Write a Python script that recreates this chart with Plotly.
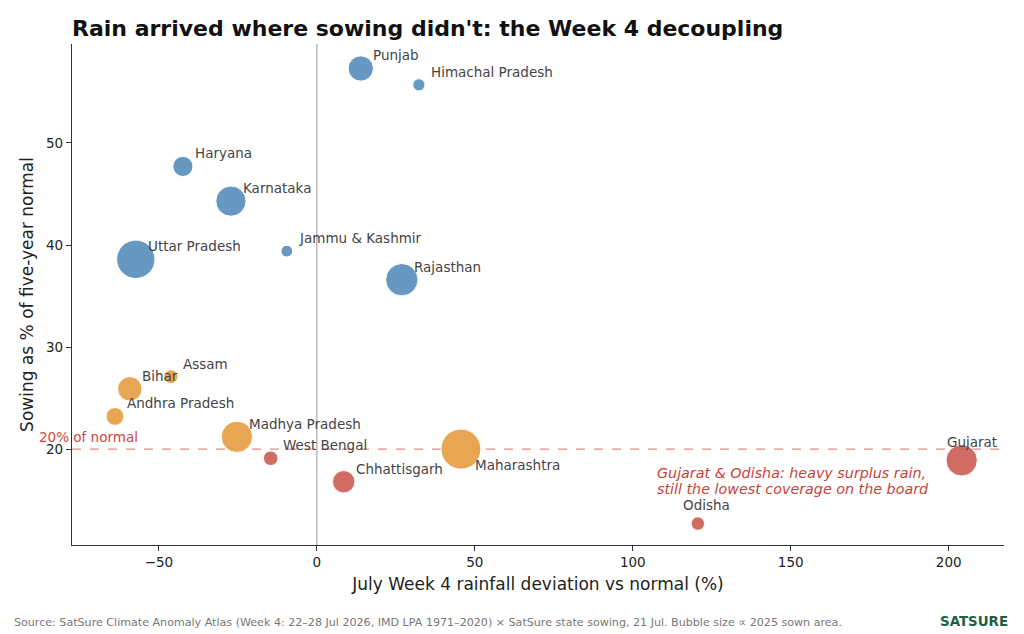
import plotly.graph_objects as go

# Week 4 rainfall deviation vs sowing progress, by state
states = [
    'Punjab', 'Himachal Pradesh', 'Haryana', 'Karnataka', 'Jammu & Kashmir',
    'Uttar Pradesh', 'Rajasthan', 'Assam', 'Bihar', 'Andhra Pradesh',
    'Madhya Pradesh', 'West Bengal', 'Maharashtra', 'Chhattisgarh',
    'Odisha', 'Gujarat'
]
rain_dev = [13.9, 32.3, -42.4, -27.2, -9.5, -57.3, 26.9, -46.2, -59.2, -63.9,
            -25.3, -14.6, 45.6, 8.5, 120.6, 204.1]
sowing_pct = [57.3, 55.7, 47.7, 44.3, 39.4, 38.6, 36.6, 27.1, 25.9, 23.2,
              21.2, 19.1, 20.0, 16.8, 12.7, 18.9]
sown_area_2025 = [60, 14, 38, 86, 13, 138, 98, 18, 56, 30,
                  92, 20, 150, 47, 17, 92]

# Label placement (px offsets from the bubble centre)
label_style = {
    'Gujarat': dict(xshift=10, yshift=18, xanchor='center'),
    'Odisha': dict(xshift=9, yshift=19, xanchor='center'),
    'Maharashtra': dict(xshift=12, yshift=-16, xanchor='left'),
}
default_label = dict(xshift=10, yshift=13, xanchor='left')

BLUE = '#6395c0'
ORANGE = '#e8a44e'
RED = '#d0685f'


def band_colour(v):
    if v >= 30:
        return BLUE
    if v >= 20:
        return ORANGE
    return RED


colours = [band_colour(v) for v in sowing_pct]
font = 'DejaVu Sans'

fig = go.Figure()

# plotly's area mode gives diameter = 2*sqrt(v / (2*sizeref))
fig.add_trace(go.Scatter(
    x=rain_dev,
    y=sowing_pct,
    mode='markers',
    marker=dict(
        size=sown_area_2025,
        sizemode='area',
        sizeref=2 * max(sown_area_2025) / 40 ** 2,
        color=colours,
        opacity=0.97,
        line=dict(color='white', width=1),
    ),
    text=states,
    hoverinfo='text',
    showlegend=False,
))

# reference lines
fig.add_shape(type='line', xref='x', yref='paper', x0=0, x1=0, y0=0, y1=1,
              line=dict(color='#bdbdbd', width=1.6), layer='below')
fig.add_shape(type='line', xref='paper', yref='y', x0=0, x1=1, y0=20, y1=20,
              line=dict(color='#e58a84', width=1.4, dash='dash'), layer='below')

annotations = []
for name, x, y in zip(states, rain_dev, sowing_pct):
    st = label_style.get(name, default_label)
    annotations.append(dict(
        x=x, y=y, xref='x', yref='y', text=name, showarrow=False,
        xshift=st['xshift'], yshift=st['yshift'], xanchor=st['xanchor'],
        yanchor='middle', font=dict(family=font, size=13.5, color='#444444'),
    ))

note_font = dict(family=font, size=14.3, color='#c8433a')
annotations += [
    dict(x=-0.0375, y=20, xref='paper', yref='y', text='20% of normal', showarrow=False,
         xanchor='left', yanchor='middle', yshift=12,
         font=dict(family=font, size=13.5, color='#d0463c')),
    dict(x=107, y=20, xref='x', yref='y',
         text='<i>Gujarat & Odisha: heavy surplus rain,</i>',
         showarrow=False, xanchor='left', yanchor='middle', yshift=-24,
         font=note_font),
    dict(x=107, y=20, xref='x', yref='y',
         text='<i>still the lowest coverage on the board</i>',
         showarrow=False, xanchor='left', yanchor='middle', yshift=-40,
         font=note_font),
    dict(x=-0.0644, y=-0.1537, xref='paper', yref='paper',
         text='Source: SatSure Climate Anomaly Atlas (Week 4: 22–28 Jul 2026, IMD LPA 1971–2020) × '
              'SatSure state sowing, 21 Jul. Bubble size ∝ 2025 sown area.',
         showarrow=False, xanchor='left', yanchor='middle',
         font=dict(family=font, size=11.1, color='#777777')),
    dict(x=1.0064, y=-0.1517, xref='paper', yref='paper', text='<b>SATSURE</b>',
         showarrow=False, xanchor='right', yanchor='middle',
         font=dict(family=font, size=13.4, color='#1e5e3e')),
]

fig.update_layout(
    width=1024,
    height=634,
    margin=dict(l=72, r=20, t=44, b=89),
    plot_bgcolor='white',
    paper_bgcolor='white',
    font=dict(family=font, color='#222222'),
    title=dict(
        text="<b>Rain arrived where sowing didn't: the Week 4 decoupling</b>",
        x=72 / 1024, xanchor='left', xref='container',
        y=1 - 28 / 634, yanchor='middle', yref='container',
        font=dict(family=font, size=22, color='#111111'),
    ),
    annotations=annotations,
    hovermode='closest',
)

fig.update_xaxes(
    range=[-77.5, 217.5],
    tickvals=[-50, 0, 50, 100, 150, 200],
    showgrid=False, zeroline=False,
    showline=True, linecolor='#333333', linewidth=1.3,
    ticks='outside', ticklen=5, tickcolor='#333333',
    tickfont=dict(family=font, size=13.5, color='#222222'),
    title=dict(text='July Week 4 rainfall deviation vs normal (%)', standoff=8,
               font=dict(family=font, size=17, color='#222222')),
)
fig.update_yaxes(
    range=[10.6, 59.7],
    tickvals=[20, 30, 40, 50],
    showgrid=False, zeroline=False,
    showline=True, linecolor='#333333', linewidth=1.3,
    ticks='outside', ticklen=5, tickcolor='#333333',
    tickfont=dict(family=font, size=13.5, color='#222222'),
    title=dict(text='Sowing as % of five-year normal', standoff=8,
               font=dict(family=font, size=17, color='#222222')),
)

# drop the browser's default page margin so the figure sits at the top-left corner
fig.write_html('out.html', config={'displayModeBar': False},
               post_script="document.body.style.margin='0';")
